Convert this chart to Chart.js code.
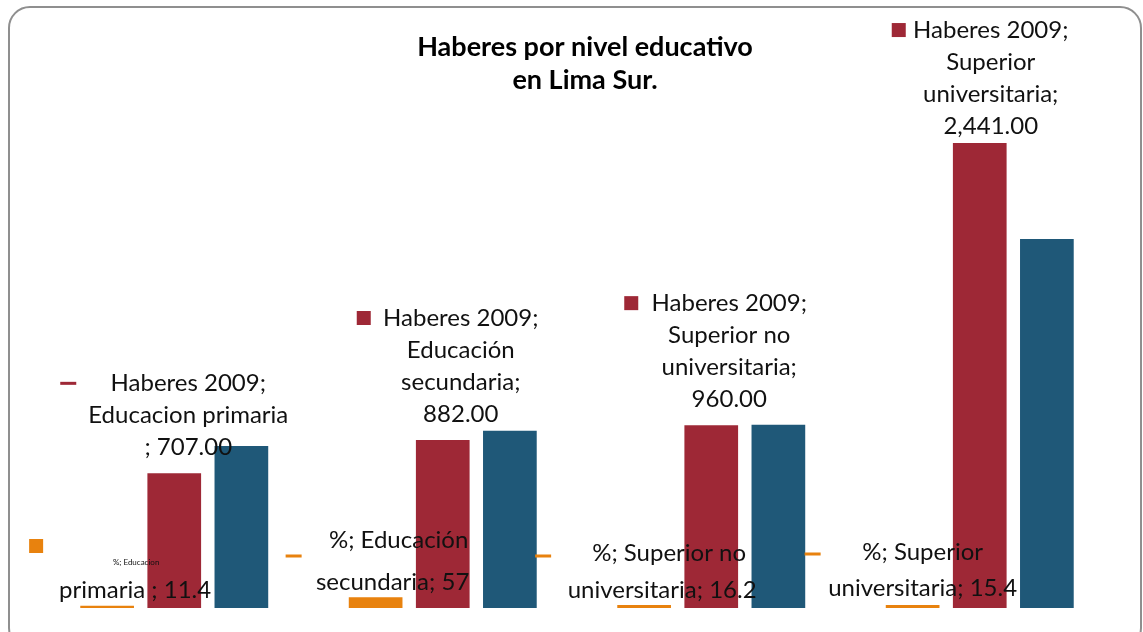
<!DOCTYPE html>
<html>
<head>
<meta charset="utf-8">
<script src="https://cdn.jsdelivr.net/npm/chart.js@4"></script>
<style>
  html, body { margin: 0; padding: 0; background: #fff; }
  #wrap { position: relative; width: 1143px; height: 632px; overflow: hidden; }
  #frame {
    position: absolute; left: 8px; top: 6px; width: 1130px; height: 640px;
    border: 2px solid #8f8f8f; border-radius: 22px; pointer-events: none;
  }
  canvas { position: absolute; left: 0; top: 0; }
</style>
</head>
<body>
<div id="wrap">
  <canvas id="c" width="1143" height="632"></canvas>
  <div id="frame"></div>
</div>
<script>
/* Haberes por nivel educativo - Lima Sur
   values (no axes shown, bars only) */

const CATEGORIES = ['Educacion primaria', 'Educación secundaria', 'Superior no universitaria', 'Superior universitaria'];
const PCT        = [11.4, 57, 16.2, 15.4];
const HABERES09  = [707, 882, 960, 2441];
const SERIE3     = [850, 930, 962, 1937];
const Y_MAX      = 2667;

const TITLE_LINES = ['Haberes por nivel educativo', 'en Lima Sur.'];

// data-label text, one entry per category
const PCT_LABELS = [
  ['%; Educacion', 'primaria ; 11.4'],
  ['%; Educación', 'secundaria; 57'],
  ['%; Superior no', 'universitaria; 16.2'],
  ['%; Superior', 'universitaria; 15.4'],
];
const HAB_LABELS = [
  ['Haberes 2009;', 'Educacion primaria', '; 707.00'],
  ['Haberes 2009;', 'Educación', 'secundaria;', '882.00'],
  ['Haberes 2009;', 'Superior no', 'universitaria;', '960.00'],
  ['Haberes 2009;', 'Superior', 'universitaria;', '2,441.00'],
];

const C_ORANGE = '#e8820e';
const C_RED    = '#9e2836';
const C_BLUE   = '#1f5878';
const FONT     = "Lato, 'Open Sans', sans-serif";

/* label placement, relative to the bar each label belongs to (layout only) */
const HAB_POS = [
  { dx: 14, dy: -26, lh: 32, key: { type: 'dash',   dx: -106, line: 0 } },
  { dx: 18, dy: -26, lh: 32, key: { type: 'square', dx: -79,  line: 0 } },
  { dx: 18, dy: -26, lh: 32, key: { type: 'square', dx: -80,  line: 0 } },
  { dx: 11, dy: -17, lh: 32, key: { type: 'square', dx: -81,  line: 0 } },
];
const PCT_POS = [
  { dx: [29, 28], dy: [-46, -18], small: true, key: { type: 'square', dx: -71, dy: -62 } },
  { dx: [23, 17], dy: [-68, -26], key: { type: 'dash', dx: -82,  dy: -52 } },
  { dx: [25, 18], dy: [-55, -18], key: { type: 'dash', dx: -101, dy: -52 } },
  { dx: [10, 10], dy: [-56, -20], key: { type: 'dash', dx: -100, dy: -54 } },
];

function drawKey(ctx, type, x, y, color){
  ctx.fillStyle = color;
  if(type === 'square') ctx.fillRect(x - 7, y - 7, 14, 14);
  else ctx.fillRect(x - 8, y - 1.5, 16, 3);
}

const labelPlugin = {
  id: 'labels',
  afterDatasetsDraw(chart){
    const ctx = chart.ctx;
    const base = chart.scales.y.getPixelForValue(0);
    ctx.save();
    ctx.textAlign = 'center';
    ctx.textBaseline = 'middle';

    // title
    ctx.fillStyle = '#000';
    ctx.font = 'bold 27px ' + FONT;
    TITLE_LINES.forEach((t, i) => ctx.fillText(t, 585, 47 + i * 33));

    // % labels
    chart.getDatasetMeta(0).data.forEach((bar, i) => {
      const p = PCT_POS[i];
      drawKey(ctx, p.key.type, bar.x + p.key.dx, base + p.key.dy, C_ORANGE);
      ctx.fillStyle = '#111';
      PCT_LABELS[i].forEach((t, j) => {
        ctx.font = (p.small && j === 0 ? '8px ' : '24px ') + FONT;
        ctx.fillText(t, bar.x + p.dx[j], base + p.dy[j]);
      });
    });

    // Haberes 2009 labels
    chart.getDatasetMeta(1).data.forEach((bar, i) => {
      const p = HAB_POS[i];
      const lines = HAB_LABELS[i];
      const y0 = bar.y + p.dy - (lines.length - 1) * p.lh;
      drawKey(ctx, p.key.type, bar.x + p.key.dx, y0 + p.key.line * p.lh, C_RED);
      ctx.fillStyle = '#111';
      ctx.font = '24px ' + FONT;
      lines.forEach((t, j) => ctx.fillText(t, bar.x + p.dx, y0 + j * p.lh));
    });
    ctx.restore();
  }
};

new Chart(document.getElementById('c'), {
  type: 'bar',
  data: {
    labels: CATEGORIES,
    datasets: [
      { label: '%',            data: PCT,       backgroundColor: C_ORANGE },
      { label: 'Haberes 2009', data: HABERES09, backgroundColor: C_RED },
      { label: 'Serie 3',      data: SERIE3,    backgroundColor: C_BLUE },
    ]
  },
  options: {
    responsive: false, animation: false,
    devicePixelRatio: 1,
    categoryPercentage: 0.75, barPercentage: 0.8,
    layout: { padding: { left: 40, right: 29, top: 100, bottom: 24 } },
    plugins: { legend: { display: false }, tooltip: { enabled: false }, title: { display: false } },
    scales: {
      x: { display: false },
      y: { display: false, min: 0, max: Y_MAX },
    }
  },
  plugins: [labelPlugin]
});
</script>
</body>
</html>
